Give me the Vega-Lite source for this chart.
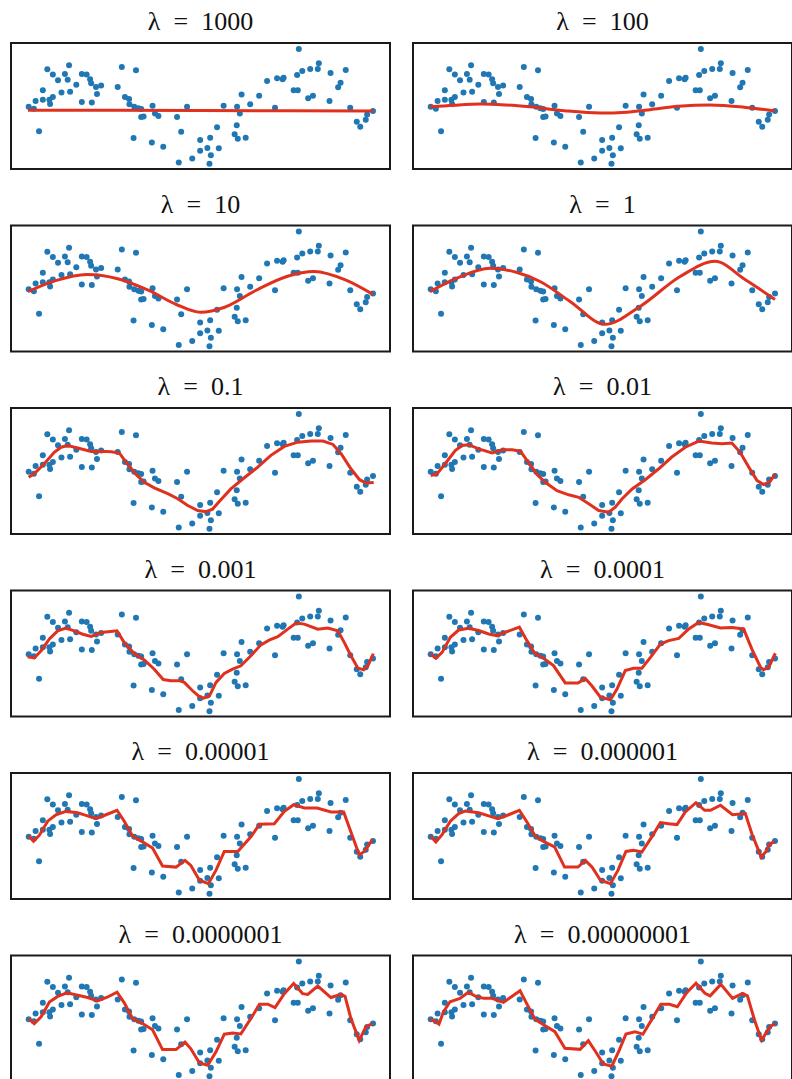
{
"$schema": "https://vega.github.io/schema/vega-lite/v6.json",
"background": "white",
"padding": {"left": 10, "top": 8, "right": 0, "bottom": 0},
"columns": 2,
"spacing": {"row": 20.5, "column": 21},
"config": {
  "view": {"stroke": "#1a1a1a", "strokeWidth": 2},
  "title": {"font": "Liberation Serif", "fontSize": 26, "fontWeight": "normal", "color": "#111111", "offset": 8, "anchor": "middle"}
},
"datasets": {
"pts": [
{"x":0.02,"y":0.04},{"x":0.17,"y":-0.03},{"x":0.22,"y":0.25},{"x":0.32,"y":-0.83},{"x":0.43,"y":0.63},{"x":0.43,"y":0.29},{"x":0.56,"y":1.38},{"x":0.62,"y":0.29},{"x":0.64,"y":0.14},{"x":0.72,"y":0.39},
{"x":0.72,"y":1.2},{"x":0.87,"y":0.99},{"x":0.97,"y":0.55},{"x":1.07,"y":1.21},{"x":1.15,"y":1.01},{"x":1.19,"y":1.53},{"x":1.22,"y":0.58},{"x":1.4,"y":0.83},{"x":1.56,"y":1.21},{"x":1.56,"y":0.21},
{"x":1.7,"y":1.2},{"x":1.8,"y":1.03},{"x":1.83,"y":0.88},{"x":1.85,"y":0.2},{"x":1.97,"y":0.75},{"x":2.0,"y":0.5},{"x":2.12,"y":0.8},{"x":2.6,"y":0.75},{"x":2.72,"y":1.46},{"x":2.81,"y":0.39},
{"x":2.93,"y":0.32},{"x":2.94,"y":0.13},{"x":3.06,"y":-1.07},{"x":3.13,"y":1.35},{"x":3.08,"y":0.04},{"x":3.2,"y":-0.01},{"x":3.28,"y":-0.04},{"x":3.28,"y":-0.32},{"x":3.35,"y":-0.3},{"x":3.59,"y":-1.23},
{"x":3.61,"y":0.08},{"x":3.68,"y":-0.2},{"x":3.78,"y":-0.29},{"x":3.92,"y":-1.38},{"x":4.32,"y":-0.32},{"x":4.37,"y":-1.95},{"x":4.44,"y":-0.85},{"x":4.61,"y":0.04},{"x":4.76,"y":-1.8},{"x":4.99,"y":-1.14},
{"x":4.99,"y":-1.53},{"x":5.2,"y":-1.43},{"x":5.26,"y":-1.99},{"x":5.3,"y":-1.69},{"x":5.28,"y":-1.06},{"x":5.53,"y":-1.44},{"x":5.48,"y":-0.69},{"x":5.67,"y":0.08},{"x":5.99,"y":-0.94},{"x":6.05,"y":-0.62},
{"x":6.08,"y":-1.1},{"x":6.31,"y":-1.06},{"x":6.06,"y":0.04},{"x":6.14,"y":-0.2},{"x":6.19,"y":0.48},{"x":6.44,"y":0.13},{"x":6.7,"y":0.44},{"x":6.93,"y":0.96},{"x":7.16,"y":0.01},{"x":7.22,"y":1.06},
{"x":7.38,"y":1.03},{"x":7.41,"y":1.08},{"x":7.7,"y":0.63},{"x":7.82,"y":0.63},{"x":7.8,"y":1.18},{"x":7.85,"y":2.11},{"x":7.95,"y":1.32},{"x":8.12,"y":0.35},{"x":8.18,"y":1.39},{"x":8.26,"y":0.44},
{"x":8.4,"y":1.39},{"x":8.43,"y":1.6},{"x":8.74,"y":0.25},{"x":8.77,"y":1.25},{"x":8.99,"y":0.74},{"x":9.06,"y":0.9},{"x":9.21,"y":1.36},{"x":9.34,"y":0.01},{"x":9.53,"y":-0.49},{"x":9.63,"y":-0.67},
{"x":9.79,"y":-0.42},{"x":9.83,"y":-0.23},{"x":10.0,"y":-0.11}
],
"fit": [
{"lam":"1000","x":0,"y":-0.08},{"lam":"1000","x":2.5,"y":-0.085},{"lam":"1000","x":5,"y":-0.09},{"lam":"1000","x":7.5,"y":-0.1},{"lam":"1000","x":10,"y":-0.11},

{"lam":"100","x":0,"y":0.04},{"lam":"100","x":0.7,"y":0.1},{"lam":"100","x":1.45,"y":0.14},{"lam":"100","x":2.2,"y":0.11},{"lam":"100","x":2.9,"y":0.04},{"lam":"100","x":3.9,"y":-0.1},{"lam":"100","x":4.93,"y":-0.18},{"lam":"100","x":5.7,"y":-0.15},{"lam":"100","x":6.38,"y":-0.06},{"lam":"100","x":7.2,"y":0.06},{"lam":"100","x":8.12,"y":0.11},{"lam":"100","x":9.1,"y":0.03},{"lam":"100","x":10,"y":-0.11},

{"lam":"10","x":0,"y":-0.04},{"lam":"10","x":0.8,"y":0.35},{"lam":"10","x":1.7,"y":0.57},{"lam":"10","x":2.6,"y":0.42},{"lam":"10","x":3.5,"y":0.0},{"lam":"10","x":4.3,"y":-0.5},{"lam":"10","x":5.0,"y":-0.78},{"lam":"10","x":5.7,"y":-0.6},{"lam":"10","x":6.6,"y":0.0},{"lam":"10","x":7.5,"y":0.5},{"lam":"10","x":8.3,"y":0.68},{"lam":"10","x":9.2,"y":0.38},{"lam":"10","x":10,"y":-0.14},

{"lam":"1","x":0,"y":-0.04},{"lam":"1","x":0.8,"y":0.45},{"lam":"1","x":1.74,"y":0.79},{"lam":"1","x":2.5,"y":0.65},{"lam":"1","x":3.19,"y":0.32},{"lam":"1","x":4.06,"y":-0.39},{"lam":"1","x":5.07,"y":-1.21},{"lam":"1","x":6.09,"y":-0.57},{"lam":"1","x":7.25,"y":0.5},{"lam":"1","x":8.26,"y":1.04},{"lam":"1","x":9.13,"y":0.39},{"lam":"1","x":10,"y":-0.32},

{"lam":"0.1","x":0.02,"y":-0.15},{"lam":"0.1","x":0.23,"y":0.03},{"lam":"0.1","x":0.47,"y":0.33},{"lam":"0.1","x":0.76,"y":0.74},{"lam":"0.1","x":0.96,"y":0.92},{"lam":"0.1","x":1.15,"y":0.98},{"lam":"0.1","x":1.44,"y":0.89},{"lam":"0.1","x":1.83,"y":0.77},{"lam":"0.1","x":2.12,"y":0.78},{"lam":"0.1","x":2.41,"y":0.76},{"lam":"0.1","x":2.65,"y":0.71},{"lam":"0.1","x":2.84,"y":0.39},{"lam":"0.1","x":3.13,"y":-0.05},{"lam":"0.1","x":3.37,"y":-0.33},{"lam":"0.1","x":3.66,"y":-0.53},{"lam":"0.1","x":4.05,"y":-0.74},{"lam":"0.1","x":4.34,"y":-0.92},{"lam":"0.1","x":4.63,"y":-1.16},{"lam":"0.1","x":4.92,"y":-1.34},{"lam":"0.1","x":5.16,"y":-1.38},{"lam":"0.1","x":5.35,"y":-1.29},{"lam":"0.1","x":5.59,"y":-0.96},{"lam":"0.1","x":5.88,"y":-0.57},{"lam":"0.1","x":6.27,"y":-0.17},{"lam":"0.1","x":6.66,"y":0.21},{"lam":"0.1","x":7.04,"y":0.63},{"lam":"0.1","x":7.43,"y":0.95},{"lam":"0.1","x":7.82,"y":1.1},{"lam":"0.1","x":8.21,"y":1.14},{"lam":"0.1","x":8.55,"y":1.14},{"lam":"0.1","x":8.84,"y":1.02},{"lam":"0.1","x":9.08,"y":0.68},{"lam":"0.1","x":9.36,"y":0.15},{"lam":"0.1","x":9.61,"y":-0.24},{"lam":"0.1","x":9.8,"y":-0.36},{"lam":"0.1","x":10.02,"y":-0.34},

{"lam":"0.01","x":0.02,"y":-0.09},{"lam":"0.01","x":0.2,"y":-0.03},{"lam":"0.01","x":0.44,"y":0.33},{"lam":"0.01","x":0.73,"y":0.8},{"lam":"0.01","x":0.93,"y":0.98},{"lam":"0.01","x":1.12,"y":1.01},{"lam":"0.01","x":1.41,"y":0.86},{"lam":"0.01","x":1.8,"y":0.72},{"lam":"0.01","x":2.09,"y":0.83},{"lam":"0.01","x":2.38,"y":0.83},{"lam":"0.01","x":2.62,"y":0.78},{"lam":"0.01","x":2.81,"y":0.45},{"lam":"0.01","x":3.1,"y":-0.05},{"lam":"0.01","x":3.34,"y":-0.33},{"lam":"0.01","x":3.68,"y":-0.63},{"lam":"0.01","x":4.02,"y":-0.78},{"lam":"0.01","x":4.31,"y":-0.87},{"lam":"0.01","x":4.6,"y":-1.1},{"lam":"0.01","x":4.89,"y":-1.34},{"lam":"0.01","x":5.18,"y":-1.4},{"lam":"0.01","x":5.37,"y":-1.22},{"lam":"0.01","x":5.57,"y":-0.92},{"lam":"0.01","x":5.86,"y":-0.57},{"lam":"0.01","x":6.24,"y":-0.24},{"lam":"0.01","x":6.63,"y":0.15},{"lam":"0.01","x":7.01,"y":0.57},{"lam":"0.01","x":7.4,"y":0.92},{"lam":"0.01","x":7.79,"y":1.14},{"lam":"0.01","x":8.17,"y":1.07},{"lam":"0.01","x":8.46,"y":1.04},{"lam":"0.01","x":8.75,"y":1.07},{"lam":"0.01","x":8.99,"y":0.74},{"lam":"0.01","x":9.24,"y":0.21},{"lam":"0.01","x":9.48,"y":-0.27},{"lam":"0.01","x":9.67,"y":-0.41},{"lam":"0.01","x":9.84,"y":-0.33},{"lam":"0.01","x":10.01,"y":-0.03},

{"lam":"0.001","x":-0.01,"y":-0.05},{"lam":"0.001","x":0.18,"y":-0.09},{"lam":"0.001","x":0.38,"y":0.17},{"lam":"0.001","x":0.62,"y":0.59},{"lam":"0.001","x":0.86,"y":0.88},{"lam":"0.001","x":1.1,"y":0.98},{"lam":"0.001","x":1.34,"y":0.88},{"lam":"0.001","x":1.59,"y":0.76},{"lam":"0.001","x":1.83,"y":0.68},{"lam":"0.001","x":2.12,"y":0.82},{"lam":"0.001","x":2.58,"y":0.88},{"lam":"0.001","x":2.79,"y":0.46},{"lam":"0.001","x":3.08,"y":0.07},{"lam":"0.001","x":3.37,"y":-0.16},{"lam":"0.001","x":3.66,"y":-0.49},{"lam":"0.001","x":3.92,"y":-0.86},{"lam":"0.001","x":4.14,"y":-0.9},{"lam":"0.001","x":4.39,"y":-0.9},{"lam":"0.001","x":4.53,"y":-0.96},{"lam":"0.001","x":4.77,"y":-1.26},{"lam":"0.001","x":4.95,"y":-1.45},{"lam":"0.001","x":5.09,"y":-1.52},{"lam":"0.001","x":5.26,"y":-1.44},{"lam":"0.001","x":5.45,"y":-0.96},{"lam":"0.001","x":5.69,"y":-0.64},{"lam":"0.001","x":5.93,"y":-0.49},{"lam":"0.001","x":6.17,"y":-0.37},{"lam":"0.001","x":6.46,"y":-0.01},{"lam":"0.001","x":6.75,"y":0.38},{"lam":"0.001","x":6.99,"y":0.55},{"lam":"0.001","x":7.24,"y":0.67},{"lam":"0.001","x":7.53,"y":0.94},{"lam":"0.001","x":7.77,"y":1.16},{"lam":"0.001","x":8.01,"y":1.12},{"lam":"0.001","x":8.4,"y":0.94},{"lam":"0.001","x":8.69,"y":0.98},{"lam":"0.001","x":8.98,"y":0.88},{"lam":"0.001","x":9.17,"y":0.46},{"lam":"0.001","x":9.36,"y":-0.01},{"lam":"0.001","x":9.56,"y":-0.45},{"lam":"0.001","x":9.73,"y":-0.51},{"lam":"0.001","x":9.85,"y":-0.37},{"lam":"0.001","x":10.01,"y":0.07},

{"lam":"0.0001","x":0.02,"y":0.05},{"lam":"0.0001","x":0.17,"y":-0.1},{"lam":"0.0001","x":0.35,"y":0.11},{"lam":"0.0001","x":0.59,"y":0.65},{"lam":"0.0001","x":0.83,"y":0.91},{"lam":"0.0001","x":1.12,"y":0.97},{"lam":"0.0001","x":1.41,"y":0.89},{"lam":"0.0001","x":1.7,"y":0.77},{"lam":"0.0001","x":1.94,"y":0.71},{"lam":"0.0001","x":2.18,"y":0.83},{"lam":"0.0001","x":2.59,"y":1.01},{"lam":"0.0001","x":2.81,"y":0.53},{"lam":"0.0001","x":3.03,"y":0.09},{"lam":"0.0001","x":3.29,"y":-0.1},{"lam":"0.0001","x":3.58,"y":-0.36},{"lam":"0.0001","x":3.92,"y":-0.98},{"lam":"0.0001","x":4.29,"y":-0.98},{"lam":"0.0001","x":4.5,"y":-0.82},{"lam":"0.0001","x":4.69,"y":-1.08},{"lam":"0.0001","x":4.94,"y":-1.49},{"lam":"0.0001","x":5.23,"y":-1.58},{"lam":"0.0001","x":5.42,"y":-1.2},{"lam":"0.0001","x":5.66,"y":-0.54},{"lam":"0.0001","x":5.9,"y":-0.46},{"lam":"0.0001","x":6.14,"y":-0.46},{"lam":"0.0001","x":6.39,"y":-0.07},{"lam":"0.0001","x":6.68,"y":0.41},{"lam":"0.0001","x":6.92,"y":0.53},{"lam":"0.0001","x":7.21,"y":0.61},{"lam":"0.0001","x":7.5,"y":0.95},{"lam":"0.0001","x":7.79,"y":1.18},{"lam":"0.0001","x":8.08,"y":1.1},{"lam":"0.0001","x":8.42,"y":0.98},{"lam":"0.0001","x":8.75,"y":1.0},{"lam":"0.0001","x":9.09,"y":0.95},{"lam":"0.0001","x":9.33,"y":0.23},{"lam":"0.0001","x":9.58,"y":-0.42},{"lam":"0.0001","x":9.67,"y":-0.51},{"lam":"0.0001","x":9.82,"y":-0.42},{"lam":"0.0001","x":10.01,"y":0.08},

{"lam":"0.00001","x":0.02,"y":0.07},{"lam":"0.00001","x":0.16,"y":-0.12},{"lam":"0.00001","x":0.33,"y":0.1},{"lam":"0.00001","x":0.57,"y":0.6},{"lam":"0.00001","x":0.81,"y":0.83},{"lam":"0.00001","x":1.1,"y":0.95},{"lam":"0.00001","x":1.44,"y":0.9},{"lam":"0.00001","x":1.68,"y":0.81},{"lam":"0.00001","x":1.97,"y":0.69},{"lam":"0.00001","x":2.26,"y":0.83},{"lam":"0.00001","x":2.58,"y":0.99},{"lam":"0.00001","x":2.79,"y":0.6},{"lam":"0.00001","x":3.03,"y":0.07},{"lam":"0.00001","x":3.32,"y":-0.14},{"lam":"0.00001","x":3.61,"y":-0.36},{"lam":"0.00001","x":3.9,"y":-1.0},{"lam":"0.00001","x":4.29,"y":-1.04},{"lam":"0.00001","x":4.55,"y":-0.8},{"lam":"0.00001","x":4.72,"y":-0.98},{"lam":"0.00001","x":4.97,"y":-1.51},{"lam":"0.00001","x":5.23,"y":-1.63},{"lam":"0.00001","x":5.45,"y":-1.15},{"lam":"0.00001","x":5.69,"y":-0.48},{"lam":"0.00001","x":6.08,"y":-0.48},{"lam":"0.00001","x":6.46,"y":0.04},{"lam":"0.00001","x":6.71,"y":0.49},{"lam":"0.00001","x":7.14,"y":0.51},{"lam":"0.00001","x":7.43,"y":0.95},{"lam":"0.00001","x":7.7,"y":1.19},{"lam":"0.00001","x":8.01,"y":1.07},{"lam":"0.00001","x":8.38,"y":1.07},{"lam":"0.00001","x":8.78,"y":0.93},{"lam":"0.00001","x":9.15,"y":0.93},{"lam":"0.00001","x":9.36,"y":0.21},{"lam":"0.00001","x":9.6,"y":-0.6},{"lam":"0.00001","x":9.75,"y":-0.48},{"lam":"0.00001","x":9.99,"y":-0.05},

{"lam":"0.000001","x":0.02,"y":0.06},{"lam":"0.000001","x":0.17,"y":-0.14},{"lam":"0.000001","x":0.35,"y":0.12},{"lam":"0.000001","x":0.59,"y":0.6},{"lam":"0.000001","x":0.83,"y":0.87},{"lam":"0.000001","x":1.02,"y":0.96},{"lam":"0.000001","x":1.41,"y":0.9},{"lam":"0.000001","x":1.7,"y":0.79},{"lam":"0.000001","x":1.97,"y":0.69},{"lam":"0.000001","x":2.28,"y":0.83},{"lam":"0.000001","x":2.59,"y":0.99},{"lam":"0.000001","x":2.81,"y":0.57},{"lam":"0.000001","x":3.05,"y":0.07},{"lam":"0.000001","x":3.29,"y":-0.12},{"lam":"0.000001","x":3.61,"y":-0.32},{"lam":"0.000001","x":3.9,"y":-1.04},{"lam":"0.000001","x":4.29,"y":-1.04},{"lam":"0.000001","x":4.5,"y":-0.8},{"lam":"0.000001","x":4.7,"y":-1.04},{"lam":"0.000001","x":4.94,"y":-1.51},{"lam":"0.000001","x":5.23,"y":-1.63},{"lam":"0.000001","x":5.45,"y":-1.15},{"lam":"0.000001","x":5.68,"y":-0.48},{"lam":"0.000001","x":5.9,"y":-0.44},{"lam":"0.000001","x":6.14,"y":-0.5},{"lam":"0.000001","x":6.43,"y":0.04},{"lam":"0.000001","x":6.68,"y":0.55},{"lam":"0.000001","x":6.92,"y":0.51},{"lam":"0.000001","x":7.16,"y":0.48},{"lam":"0.000001","x":7.4,"y":0.93},{"lam":"0.000001","x":7.71,"y":1.26},{"lam":"0.000001","x":7.96,"y":0.99},{"lam":"0.000001","x":8.13,"y":0.99},{"lam":"0.000001","x":8.42,"y":1.17},{"lam":"0.000001","x":8.77,"y":0.83},{"lam":"0.000001","x":9.14,"y":0.87},{"lam":"0.000001","x":9.33,"y":0.15},{"lam":"0.000001","x":9.6,"y":-0.68},{"lam":"0.000001","x":9.74,"y":-0.48},{"lam":"0.000001","x":9.84,"y":-0.23},{"lam":"0.000001","x":9.99,"y":-0.12},

{"lam":"0.0000001","x":0.02,"y":0.07},{"lam":"0.0000001","x":0.18,"y":-0.11},{"lam":"0.0000001","x":0.38,"y":0.13},{"lam":"0.0000001","x":0.62,"y":0.66},{"lam":"0.0000001","x":0.86,"y":0.86},{"lam":"0.0000001","x":1.13,"y":0.99},{"lam":"0.0000001","x":1.44,"y":0.9},{"lam":"0.0000001","x":1.73,"y":0.82},{"lam":"0.0000001","x":2.02,"y":0.7},{"lam":"0.0000001","x":2.31,"y":0.84},{"lam":"0.0000001","x":2.58,"y":1.01},{"lam":"0.0000001","x":2.79,"y":0.63},{"lam":"0.0000001","x":3.03,"y":0.07},{"lam":"0.0000001","x":3.32,"y":-0.11},{"lam":"0.0000001","x":3.61,"y":-0.33},{"lam":"0.0000001","x":3.9,"y":-1.04},{"lam":"0.0000001","x":4.29,"y":-1.04},{"lam":"0.0000001","x":4.55,"y":-0.77},{"lam":"0.0000001","x":4.72,"y":-1.01},{"lam":"0.0000001","x":4.97,"y":-1.52},{"lam":"0.0000001","x":5.21,"y":-1.6},{"lam":"0.0000001","x":5.45,"y":-1.12},{"lam":"0.0000001","x":5.69,"y":-0.49},{"lam":"0.0000001","x":5.93,"y":-0.45},{"lam":"0.0000001","x":6.17,"y":-0.48},{"lam":"0.0000001","x":6.46,"y":0.07},{"lam":"0.0000001","x":6.71,"y":0.58},{"lam":"0.0000001","x":6.95,"y":0.58},{"lam":"0.0000001","x":7.16,"y":0.46},{"lam":"0.0000001","x":7.43,"y":0.96},{"lam":"0.0000001","x":7.7,"y":1.32},{"lam":"0.0000001","x":7.96,"y":0.96},{"lam":"0.0000001","x":8.11,"y":0.93},{"lam":"0.0000001","x":8.4,"y":1.23},{"lam":"0.0000001","x":8.78,"y":0.82},{"lam":"0.0000001","x":9.07,"y":0.93},{"lam":"0.0000001","x":9.19,"y":0.86},{"lam":"0.0000001","x":9.36,"y":0.07},{"lam":"0.0000001","x":9.6,"y":-0.71},{"lam":"0.0000001","x":9.8,"y":-0.21},{"lam":"0.0000001","x":9.99,"y":-0.11},

{"lam":"0.00000001","x":0.0,"y":0.05},{"lam":"0.00000001","x":0.13,"y":-0.02},{"lam":"0.00000001","x":0.26,"y":-0.13},{"lam":"0.00000001","x":0.39,"y":0.31},{"lam":"0.00000001","x":0.58,"y":0.67},{"lam":"0.00000001","x":0.87,"y":0.79},{"lam":"0.00000001","x":1.11,"y":1.01},{"lam":"0.00000001","x":1.3,"y":0.88},{"lam":"0.00000001","x":1.55,"y":0.79},{"lam":"0.00000001","x":1.79,"y":0.79},{"lam":"0.00000001","x":2.13,"y":0.65},{"lam":"0.00000001","x":2.61,"y":1.06},{"lam":"0.00000001","x":2.8,"y":0.61},{"lam":"0.00000001","x":3.04,"y":0.05},{"lam":"0.00000001","x":3.28,"y":-0.14},{"lam":"0.00000001","x":3.62,"y":-0.4},{"lam":"0.00000001","x":3.91,"y":-0.99},{"lam":"0.00000001","x":4.35,"y":-1.03},{"lam":"0.00000001","x":4.59,"y":-0.72},{"lam":"0.00000001","x":4.83,"y":-1.17},{"lam":"0.00000001","x":5.02,"y":-1.55},{"lam":"0.00000001","x":5.27,"y":-1.63},{"lam":"0.00000001","x":5.49,"y":-1.05},{"lam":"0.00000001","x":5.68,"y":-0.48},{"lam":"0.00000001","x":5.94,"y":-0.4},{"lam":"0.00000001","x":6.17,"y":-0.49},{"lam":"0.00000001","x":6.43,"y":0.04},{"lam":"0.00000001","x":6.69,"y":0.58},{"lam":"0.00000001","x":6.94,"y":0.58},{"lam":"0.00000001","x":7.17,"y":0.49},{"lam":"0.00000001","x":7.44,"y":0.99},{"lam":"0.00000001","x":7.71,"y":1.33},{"lam":"0.00000001","x":7.97,"y":0.97},{"lam":"0.00000001","x":8.12,"y":0.88},{"lam":"0.00000001","x":8.43,"y":1.29},{"lam":"0.00000001","x":8.77,"y":0.79},{"lam":"0.00000001","x":9.06,"y":0.97},{"lam":"0.00000001","x":9.2,"y":0.88},{"lam":"0.00000001","x":9.42,"y":-0.04},{"lam":"0.00000001","x":9.61,"y":-0.7},{"lam":"0.00000001","x":9.86,"y":-0.22},{"lam":"0.00000001","x":10.01,"y":-0.1}
]
},
"concat": [
{"title":"λ\u2002=\u20021000","width":379,"height":126,"encoding":{"x":{"field":"x","type":"quantitative","scale":{"domain":[-0.493,10.493],"nice":false,"zero":false},"axis":null},"y":{"field":"y","type":"quantitative","scale":{"domain":[-2.179,2.321],"nice":false,"zero":false},"axis":null}},"layer":[{"data":{"name":"pts"},"mark":{"type":"circle","size":36,"color":"#1f77b4","opacity":1}},{"data":{"name":"fit"},"transform":[{"filter":{"field":"lam","equal":"1000"}}],"mark":{"type":"line","color":"#e0301e","strokeWidth":3}}]},
{"title":"λ\u2002=\u2002100","width":379,"height":126,"encoding":{"x":{"field":"x","type":"quantitative","scale":{"domain":[-0.493,10.493],"nice":false,"zero":false},"axis":null},"y":{"field":"y","type":"quantitative","scale":{"domain":[-2.179,2.321],"nice":false,"zero":false},"axis":null}},"layer":[{"data":{"name":"pts"},"mark":{"type":"circle","size":36,"color":"#1f77b4","opacity":1}},{"data":{"name":"fit"},"transform":[{"filter":{"field":"lam","equal":"100"}}],"mark":{"type":"line","color":"#e0301e","strokeWidth":3,"interpolate":"monotone"}}]},
{"title":"λ\u2002=\u200210","width":379,"height":126,"encoding":{"x":{"field":"x","type":"quantitative","scale":{"domain":[-0.493,10.493],"nice":false,"zero":false},"axis":null},"y":{"field":"y","type":"quantitative","scale":{"domain":[-2.179,2.321],"nice":false,"zero":false},"axis":null}},"layer":[{"data":{"name":"pts"},"mark":{"type":"circle","size":36,"color":"#1f77b4","opacity":1}},{"data":{"name":"fit"},"transform":[{"filter":{"field":"lam","equal":"10"}}],"mark":{"type":"line","color":"#e0301e","strokeWidth":3,"interpolate":"monotone"}}]},
{"title":"λ\u2002=\u20021","width":379,"height":126,"encoding":{"x":{"field":"x","type":"quantitative","scale":{"domain":[-0.493,10.493],"nice":false,"zero":false},"axis":null},"y":{"field":"y","type":"quantitative","scale":{"domain":[-2.179,2.321],"nice":false,"zero":false},"axis":null}},"layer":[{"data":{"name":"pts"},"mark":{"type":"circle","size":36,"color":"#1f77b4","opacity":1}},{"data":{"name":"fit"},"transform":[{"filter":{"field":"lam","equal":"1"}}],"mark":{"type":"line","color":"#e0301e","strokeWidth":3,"interpolate":"monotone"}}]},
{"title":"λ\u2002=\u20020.1","width":379,"height":126,"encoding":{"x":{"field":"x","type":"quantitative","scale":{"domain":[-0.493,10.493],"nice":false,"zero":false},"axis":null},"y":{"field":"y","type":"quantitative","scale":{"domain":[-2.179,2.321],"nice":false,"zero":false},"axis":null}},"layer":[{"data":{"name":"pts"},"mark":{"type":"circle","size":36,"color":"#1f77b4","opacity":1}},{"data":{"name":"fit"},"transform":[{"filter":{"field":"lam","equal":"0.1"}}],"mark":{"type":"line","color":"#e0301e","strokeWidth":3}}]},
{"title":"λ\u2002=\u20020.01","width":379,"height":126,"encoding":{"x":{"field":"x","type":"quantitative","scale":{"domain":[-0.493,10.493],"nice":false,"zero":false},"axis":null},"y":{"field":"y","type":"quantitative","scale":{"domain":[-2.179,2.321],"nice":false,"zero":false},"axis":null}},"layer":[{"data":{"name":"pts"},"mark":{"type":"circle","size":36,"color":"#1f77b4","opacity":1}},{"data":{"name":"fit"},"transform":[{"filter":{"field":"lam","equal":"0.01"}}],"mark":{"type":"line","color":"#e0301e","strokeWidth":3}}]},
{"title":"λ\u2002=\u20020.001","width":379,"height":126,"encoding":{"x":{"field":"x","type":"quantitative","scale":{"domain":[-0.493,10.493],"nice":false,"zero":false},"axis":null},"y":{"field":"y","type":"quantitative","scale":{"domain":[-2.179,2.321],"nice":false,"zero":false},"axis":null}},"layer":[{"data":{"name":"pts"},"mark":{"type":"circle","size":36,"color":"#1f77b4","opacity":1}},{"data":{"name":"fit"},"transform":[{"filter":{"field":"lam","equal":"0.001"}}],"mark":{"type":"line","color":"#e0301e","strokeWidth":3}}]},
{"title":"λ\u2002=\u20020.0001","width":379,"height":126,"encoding":{"x":{"field":"x","type":"quantitative","scale":{"domain":[-0.493,10.493],"nice":false,"zero":false},"axis":null},"y":{"field":"y","type":"quantitative","scale":{"domain":[-2.179,2.321],"nice":false,"zero":false},"axis":null}},"layer":[{"data":{"name":"pts"},"mark":{"type":"circle","size":36,"color":"#1f77b4","opacity":1}},{"data":{"name":"fit"},"transform":[{"filter":{"field":"lam","equal":"0.0001"}}],"mark":{"type":"line","color":"#e0301e","strokeWidth":3}}]},
{"title":"λ\u2002=\u20020.00001","width":379,"height":126,"encoding":{"x":{"field":"x","type":"quantitative","scale":{"domain":[-0.493,10.493],"nice":false,"zero":false},"axis":null},"y":{"field":"y","type":"quantitative","scale":{"domain":[-2.179,2.321],"nice":false,"zero":false},"axis":null}},"layer":[{"data":{"name":"pts"},"mark":{"type":"circle","size":36,"color":"#1f77b4","opacity":1}},{"data":{"name":"fit"},"transform":[{"filter":{"field":"lam","equal":"0.00001"}}],"mark":{"type":"line","color":"#e0301e","strokeWidth":3}}]},
{"title":"λ\u2002=\u20020.000001","width":379,"height":126,"encoding":{"x":{"field":"x","type":"quantitative","scale":{"domain":[-0.493,10.493],"nice":false,"zero":false},"axis":null},"y":{"field":"y","type":"quantitative","scale":{"domain":[-2.179,2.321],"nice":false,"zero":false},"axis":null}},"layer":[{"data":{"name":"pts"},"mark":{"type":"circle","size":36,"color":"#1f77b4","opacity":1}},{"data":{"name":"fit"},"transform":[{"filter":{"field":"lam","equal":"0.000001"}}],"mark":{"type":"line","color":"#e0301e","strokeWidth":3}}]},
{"title":"λ\u2002=\u20020.0000001","width":379,"height":126,"encoding":{"x":{"field":"x","type":"quantitative","scale":{"domain":[-0.493,10.493],"nice":false,"zero":false},"axis":null},"y":{"field":"y","type":"quantitative","scale":{"domain":[-2.179,2.321],"nice":false,"zero":false},"axis":null}},"layer":[{"data":{"name":"pts"},"mark":{"type":"circle","size":36,"color":"#1f77b4","opacity":1}},{"data":{"name":"fit"},"transform":[{"filter":{"field":"lam","equal":"0.0000001"}}],"mark":{"type":"line","color":"#e0301e","strokeWidth":3}}]},
{"title":"λ\u2002=\u20020.00000001","width":379,"height":126,"encoding":{"x":{"field":"x","type":"quantitative","scale":{"domain":[-0.493,10.493],"nice":false,"zero":false},"axis":null},"y":{"field":"y","type":"quantitative","scale":{"domain":[-2.179,2.321],"nice":false,"zero":false},"axis":null}},"layer":[{"data":{"name":"pts"},"mark":{"type":"circle","size":36,"color":"#1f77b4","opacity":1}},{"data":{"name":"fit"},"transform":[{"filter":{"field":"lam","equal":"0.00000001"}}],"mark":{"type":"line","color":"#e0301e","strokeWidth":3}}]}
]
}
